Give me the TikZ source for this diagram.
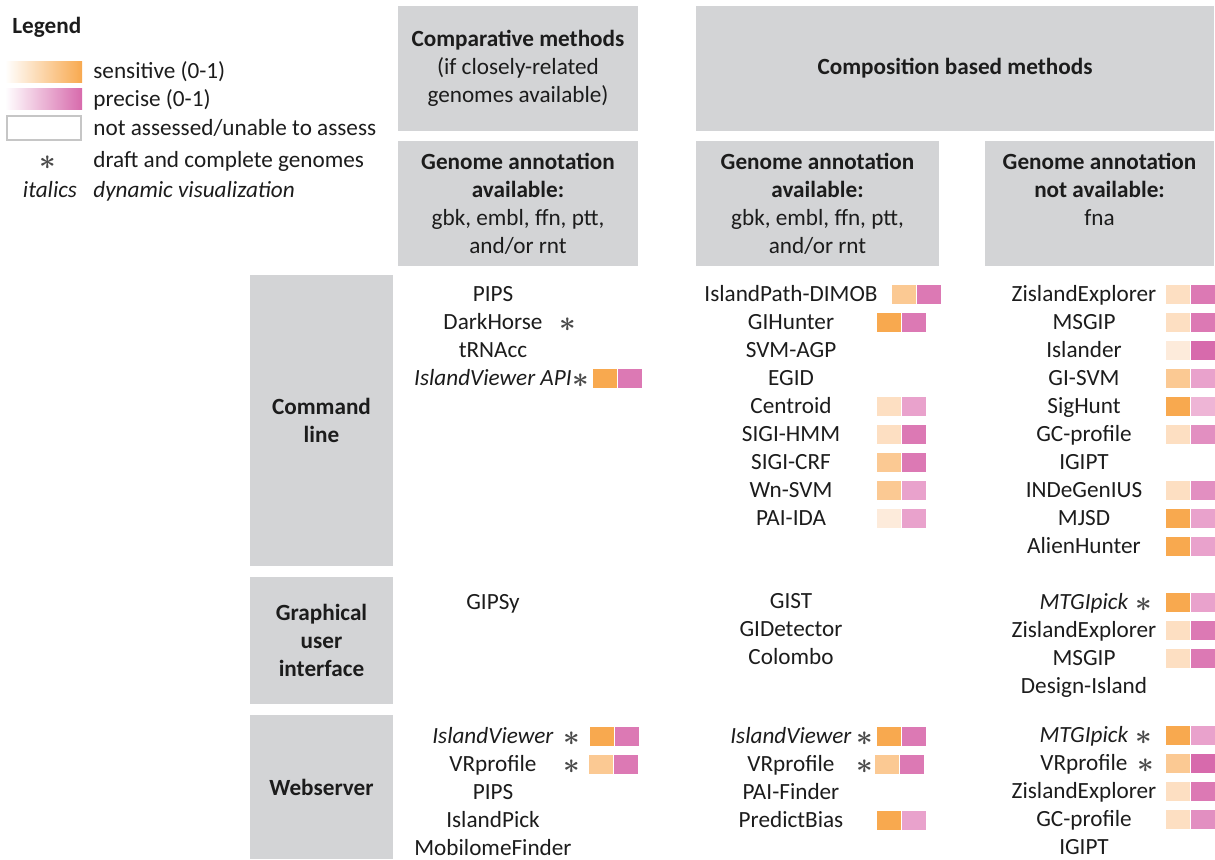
\documentclass[tikz,border=0pt]{standalone}
\usepackage{fontspec}
\setmainfont{Carlito}
\usetikzlibrary{positioning}

\definecolor{boxgray}{HTML}{D3D4D6}
\definecolor{ink}{HTML}{1C1C1C}
\definecolor{stargray}{HTML}{4A4A4A}
\definecolor{o1}{HTML}{FDEBDB}
\definecolor{o2}{HTML}{FDDFC2}
\definecolor{o3}{HTML}{FBC993}
\definecolor{o4}{HTML}{F8A94F}
\definecolor{p1}{HTML}{EEB5D6}
\definecolor{p2}{HTML}{E9A2CC}
\definecolor{p3}{HTML}{E28FC1}
\definecolor{p4}{HTML}{DC79B4}
\definecolor{p5}{HTML}{D76AAC}

\newcommand\fs{\fontsize{11.6}{14}\selectfont}
\newcommand\score[4]{%
  \node[bar=#3] (#1-s) at (#2,0 |- #1) {};
  \node[bar=#4] (#1-p) at (#1-s.east) {};}
\newcommand\draftmark[2]{%
  \node[star] (#1-ast) at (#2,0 |- #1.base) {$\ast$};}

\begin{document}
\begin{tikzpicture}[x=0.5pt,y=-0.5pt,node distance=14.05pt,on grid,
  txt/.style={font=\fs,text=ink,inner sep=0pt},
  tool/.style={txt,text height=9pt,text depth=2pt},
  hdr/.style={txt,fill=boxgray,align=center},
  bar/.style={fill=#1,minimum width=12pt,minimum height=9.5pt,inner sep=0pt,anchor=west},
  star/.style={inner sep=0pt,text=stargray,font=\fontsize{14.5}{14.5}\selectfont\boldmath,anchor=base,yshift=-1.2pt}]
\useasboundingbox (0,0) rectangle (1215,859);

% legend
\node[txt,font=\fs\bfseries,anchor=west] (legend) at (12,27) {Legend};
\node[inner sep=0pt,minimum width=38.5pt,minimum height=10.5pt,left color=white,right color=o4] (leg-sens) at (43.5,71.5) {};
\node[inner sep=0pt,minimum width=38.5pt,minimum height=10.5pt,left color=white,right color=p5] (leg-prec) at (43.5,99) {};
\node[inner sep=0pt,minimum width=37pt,minimum height=12pt,draw=gray!45,line width=0.8pt,fill=white] (leg-none) at (44,128) {};
\node[tool,anchor=west] (leg-t1) at (93,71) {sensitive (0-1)};
\node[tool,anchor=west] (leg-t2) at (93,99) {precise (0-1)};
\node[tool,anchor=west] (leg-t3) at (93,128) {not assessed/unable to assess};
\node[tool,anchor=west] (leg-t4) at (93,160) {draft and complete genomes};
\node[tool,anchor=west,font=\fs\itshape] (leg-t5) at (93,190) {dynamic visualization};
\node[star] (leg-ast) at (48,0 |- leg-t4.base) {$\ast$};
\node[tool,font=\fs\itshape] (leg-it) at (50,190) {italics};

% column and row headers
\node[hdr,minimum width=120pt,minimum height=62.5pt] (comp) at (518,68.5) {\textbf{Comparative methods}\\(if closely-related\\genomes available)};
\node[hdr,minimum width=259pt,minimum height=62.5pt] (compo) at (955,68.5) {\textbf{Composition based methods}};
\node[hdr,minimum width=120pt,minimum height=62.5pt] (annA) at (518,203.5) {\textbf{Genome annotation}\\\textbf{available:}\\gbk, embl, ffn, ptt,\\and/or rnt};
\node[hdr,minimum width=121.5pt,minimum height=62.5pt] (annB) at (817.5,203.5) {\textbf{Genome annotation}\\\textbf{available:}\\gbk, embl, ffn, ptt,\\and/or rnt};
\node[hdr,minimum width=114.5pt,minimum height=62.5pt] (annC) at (1099.5,203.5) {\textbf{Genome annotation}\\\textbf{not available:}\\fna\\\mbox{}};
\node[hdr,font=\fs\bfseries,minimum width=71.5pt,minimum height=145.5pt] (cmd) at (321.5,420.5) {Command\\line};
\node[hdr,font=\fs\bfseries,minimum width=71.5pt,minimum height=63.5pt] (gui) at (321.5,640.5) {Graphical\\user\\interface};
\node[hdr,font=\fs\bfseries,minimum width=71.5pt,minimum height=72pt] (web) at (321.5,787) {Webserver};

% command line
\node[tool] (cl-pips) at (493,294) {PIPS};
\node[tool] (cl-dark) [below=of cl-pips] {DarkHorse};
\node[tool] (cl-trna) [below=of cl-dark] {tRNAcc};
\node[tool] (cl-ivapi) [below=of cl-trna] {\textit{IslandViewer API}};

\node[tool] (cl-dimob) at (791,294) {IslandPath-DIMOB};
\node[tool] (cl-gihunter) [below=of cl-dimob] {GIHunter};
\node[tool] (cl-svmagp) [below=of cl-gihunter] {SVM-AGP};
\node[tool] (cl-egid) [below=of cl-svmagp] {EGID};
\node[tool] (cl-centroid) [below=of cl-egid] {Centroid};
\node[tool] (cl-sigihmm) [below=of cl-centroid] {SIGI-HMM};
\node[tool] (cl-sigicrf) [below=of cl-sigihmm] {SIGI-CRF};
\node[tool] (cl-wnsvm) [below=of cl-sigicrf] {Wn-SVM};
\node[tool] (cl-paiida) [below=of cl-wnsvm] {PAI-IDA};

\node[tool] (cl-zisl) at (1084,294) {ZislandExplorer};
\node[tool] (cl-msgip) [below=of cl-zisl] {MSGIP};
\node[tool] (cl-islander) [below=of cl-msgip] {Islander};
\node[tool] (cl-gisvm) [below=of cl-islander] {GI-SVM};
\node[tool] (cl-sighunt) [below=of cl-gisvm] {SigHunt};
\node[tool] (cl-gcprof) [below=of cl-sighunt] {GC-profile};
\node[tool] (cl-igipt) [below=of cl-gcprof] {IGIPT};
\node[tool] (cl-indegen) [below=of cl-igipt] {INDeGenIUS};
\node[tool] (cl-mjsd) [below=of cl-indegen] {MJSD};
\node[tool] (cl-alien) [below=of cl-mjsd] {AlienHunter};

% graphical user interface
\node[tool] (gui-gipsy) at (493,602) {GIPSy};

\node[tool] (gui-gist) at (791,601) {GIST};
\node[tool] (gui-gidet) [below=of gui-gist] {GIDetector};
\node[tool] (gui-colombo) [below=of gui-gidet] {Colombo};

\node[tool] (gui-mtgi) at (1084,602) {\textit{MTGIpick}};
\node[tool] (gui-zisl) [below=of gui-mtgi] {ZislandExplorer};
\node[tool] (gui-msgip) [below=of gui-zisl] {MSGIP};
\node[tool] (gui-design) [below=of gui-msgip] {Design-Island};

% webserver
\node[tool] (web-iv) at (493,736) {\textit{IslandViewer}};
\node[tool] (web-vr) [below=of web-iv] {VRprofile};
\node[tool] (web-pips) [below=of web-vr] {PIPS};
\node[tool] (web-ipick) [below=of web-pips] {IslandPick};
\node[tool] (web-mobilome) [below=of web-ipick] {MobilomeFinder};

\node[tool] (web-iv2) at (791,736) {\textit{IslandViewer}};
\node[tool] (web-vr2) [below=of web-iv2] {VRprofile};
\node[tool] (web-paifinder) [below=of web-vr2] {PAI-Finder};
\node[tool] (web-pbias) [below=of web-paifinder] {PredictBias};

\node[tool] (web-mtgi) at (1084,735) {\textit{MTGIpick}};
\node[tool] (web-vr3) [below=of web-mtgi] {VRprofile};
\node[tool] (web-zisl) [below=of web-vr3] {ZislandExplorer};
\node[tool] (web-gcprof) [below=of web-zisl] {GC-profile};
\node[tool] (web-igipt) [below=of web-gcprof] {IGIPT};

% draft marks and scores
\draftmark{cl-dark}{568}
\draftmark{cl-ivapi}{581}
\score{cl-ivapi}{593}{o4}{p4}
\score{cl-dimob}{892}{o3}{p4}
\score{cl-gihunter}{877}{o4}{p4}
\score{cl-centroid}{877}{o2}{p2}
\score{cl-sigihmm}{877}{o2}{p4}
\score{cl-sigicrf}{877}{o3}{p4}
\score{cl-wnsvm}{877}{o3}{p2}
\score{cl-paiida}{877}{o1}{p2}
\score{cl-zisl}{1166}{o2}{p4}
\score{cl-msgip}{1166}{o2}{p4}
\score{cl-islander}{1166}{o1}{p5}
\score{cl-gisvm}{1166}{o3}{p2}
\score{cl-sighunt}{1166}{o4}{p1}
\score{cl-gcprof}{1166}{o2}{p3}
\score{cl-indegen}{1166}{o2}{p3}
\score{cl-mjsd}{1166}{o4}{p2}
\score{cl-alien}{1166}{o4}{p2}

\draftmark{gui-mtgi}{1144}
\score{gui-mtgi}{1166}{o4}{p2}
\score{gui-zisl}{1166}{o2}{p4}
\score{gui-msgip}{1166}{o2}{p4}

\draftmark{web-iv}{572}
\score{web-iv}{590}{o4}{p4}
\draftmark{web-vr}{572}
\score{web-vr}{589}{o3}{p4}
\draftmark{web-iv2}{865}
\score{web-iv2}{877}{o4}{p4}
\draftmark{web-vr2}{865}
\score{web-vr2}{875}{o3}{p4}
\score{web-pbias}{877}{o4}{p2}
\draftmark{web-mtgi}{1144}
\score{web-mtgi}{1166}{o4}{p2}
\draftmark{web-vr3}{1146}
\score{web-vr3}{1166}{o3}{p5}
\score{web-zisl}{1166}{o2}{p4}
\score{web-gcprof}{1166}{o2}{p3}
\end{tikzpicture}
\end{document}
